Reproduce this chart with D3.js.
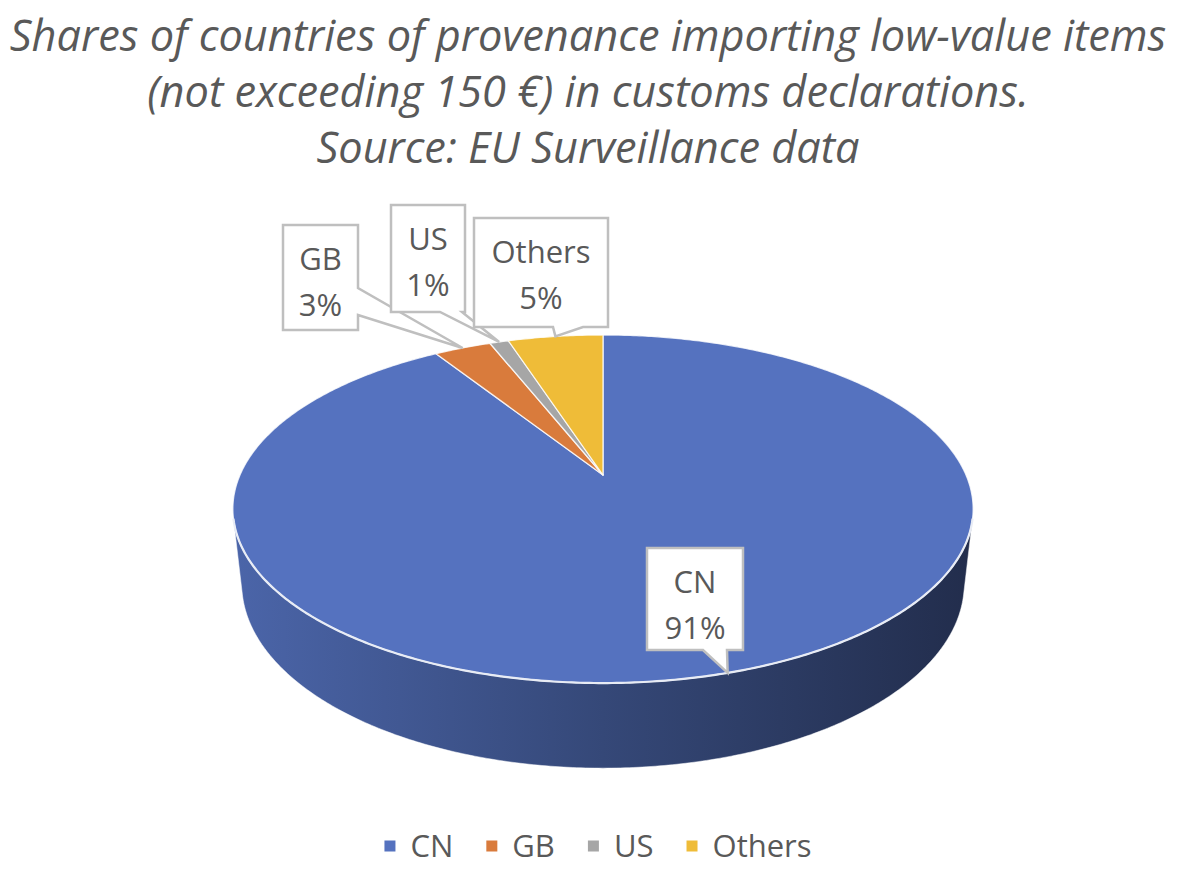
<!DOCTYPE html>
<html>
<head>
<meta charset="utf-8">
<script src="https://cdn.jsdelivr.net/npm/d3@7"></script>
<style>
  html, body { margin: 0; padding: 0; background: #fff; }
  svg { display: block; }
</style>
</head>
<body>
<div id="chart"></div>
<script>
// data
const categories = ["CN", "GB", "US", "Others"];
const shares = [91, 3, 1, 5];
const sliceColors = ["#5572bf", "#d97b3c", "#a6a6a6", "#efbc38"];
const titleLines = [
  "Shares of countries of provenance importing low-value items",
  "(not exceeding 150 €) in customs declarations.",
  "Source: EU Surveillance data"
];

// layout of the callout boxes (not data)
const calloutLayout = [
  {x: 647, y: 548, w: 96, h: 102, side: "bottom", b0: 703, b1: 727},
  {x: 283, y: 225, w: 75, h: 105, side: "right", b0: 288, b1: 315},
  {x: 391, y: 205, w: 74, h: 107, side: "bottom", b0: 440, b1: 462},
  {x: 474, y: 218, w: 134, h: 109, side: "bottom", b0: 553, b1: 583}
];

const width = 1200, height = 873;
const textColor = "#595959";

// 3d pie geometry
const cx = 603, cy = 475;
const R = 363;
const tilt = 27.46 * Math.PI / 180;
const camDist = 1648;
const depth = 85;
const sT = Math.sin(tilt), cT = Math.cos(tilt);

// angle clockwise from 12 o'clock, radius r, height y -> screen point
function proj(phi, r, y) {
  const X = r * Math.sin(phi);
  const Z = -r * Math.cos(phi);
  const up = y * cT - Z * sT;
  const d = y * sT + Z * cT;
  const k = camDist / (camDist - d);
  return [cx + X * k, cy - up * k];
}

function rimPoints(a0, a1, y) {
  const n = Math.max(2, Math.ceil((a1 - a0) / 0.01));
  return d3.range(n + 1).map(i => proj(a0 + (a1 - a0) * i / n, R, y));
}

const svg = d3.select("#chart").append("svg")
  .attr("width", width)
  .attr("height", height);

const data = categories.map((c, i) => ({name: c, value: shares[i], color: sliceColors[i]}));
const pie = d3.pie().sort(null).value(d => d.value).startAngle(0).endAngle(2 * Math.PI);
const arcs = pie(data);

const defs = svg.append("defs");
arcs.forEach((a, i) => {
  const base = d3.color(a.data.color);
  const g = defs.append("linearGradient")
    .attr("id", "side" + i)
    .attr("gradientUnits", "userSpaceOnUse")
    .attr("x1", cx - 1.02 * R).attr("x2", cx + 1.02 * R)
    .attr("y1", 0).attr("y2", 0);
  [[0, 0.35], [0.5, 1.3], [1, 2.6]].forEach(([o, k]) => {
    g.append("stop").attr("offset", o).attr("stop-color", base.darker(k).formatHex());
  });
});

const line = d3.line();

// outer wall, only the part that faces the viewer
const phiMin = Math.acos(-R / (camDist * cT));
const phiMax = 2 * Math.PI - phiMin;

const sides = svg.append("g");
arcs.forEach((a, i) => {
  const a0 = Math.max(a.startAngle, phiMin);
  const a1 = Math.min(a.endAngle, phiMax);
  if (a1 <= a0) return;
  const pts = rimPoints(a0, a1, 0).concat(rimPoints(a0, a1, -depth).reverse());
  sides.append("path")
    .attr("d", line(pts) + "Z")
    .attr("fill", `url(#side${i})`)
    .attr("stroke", "#ffffff")
    .attr("stroke-opacity", 0.5)
    .attr("stroke-width", 1);
});

// top faces
const tops = svg.append("g");
arcs.forEach(a => {
  const pts = [[cx, cy]].concat(rimPoints(a.startAngle, a.endAngle, 0));
  tops.append("path")
    .attr("d", line(pts) + "Z")
    .attr("fill", a.data.color)
    .attr("stroke", "#ffffff")
    .attr("stroke-opacity", 0.8)
    .attr("stroke-width", 1.3)
    .attr("stroke-linejoin", "round");
});

// light rim where the top meets the wall
svg.append("path")
  .attr("d", line(rimPoints(phiMin, phiMax, 0)))
  .attr("fill", "none")
  .attr("stroke", "#e8ecf5")
  .attr("stroke-width", 2.2);

// callouts
function calloutPath(b, tip) {
  if (b.side === "right") {
    return `M${b.x},${b.y}H${b.x + b.w}V${b.b0}L${tip[0]},${tip[1]}L${b.x + b.w},${b.b1}V${b.y + b.h}H${b.x}Z`;
  }
  return `M${b.x},${b.y}H${b.x + b.w}V${b.y + b.h}H${b.b1}L${tip[0]},${tip[1]}L${b.b0},${b.y + b.h}H${b.x}Z`;
}

const labels = svg.append("g");
arcs.forEach((a, i) => {
  const b = calloutLayout[i];
  const mid = (a.startAngle + a.endAngle) / 2;
  const tip = proj(mid, R, 0);
  const g = labels.append("g");
  g.append("path")
    .attr("d", calloutPath(b, tip))
    .attr("fill", "#ffffff")
    .attr("stroke", "#bfbfbf")
    .attr("stroke-width", 2.5)
    .attr("stroke-linejoin", "miter");
  const t = g.append("text")
    .attr("text-anchor", "middle")
    .attr("font-family", "'Open Sans', sans-serif")
    .attr("font-size", 31)
    .attr("fill", textColor);
  t.append("tspan").attr("x", b.x + b.w / 2).attr("y", b.y + 45).text(a.data.name);
  t.append("tspan").attr("x", b.x + b.w / 2).attr("y", b.y + 91).text(a.data.value + "%");
});

// title
const title = svg.append("g")
  .attr("font-family", "'Open Sans', sans-serif")
  .attr("font-style", "italic")
  .attr("fill", textColor)
  .attr("text-anchor", "middle");
const titleY = [51, 107, 163];
const titleNodes = titleLines.map((s, i) =>
  title.append("text").attr("x", 588).attr("y", titleY[i]).attr("font-size", 40).text(s));
const firstLen = titleNodes[0].node().getComputedTextLength();
const titleSize = 40 * 1157 / firstLen;
titleNodes.forEach(n => n.attr("font-size", titleSize));

// legend
const legend = svg.append("g")
  .attr("font-family", "'Open Sans', sans-serif")
  .attr("font-size", 31)
  .attr("fill", textColor);
const sq = 11, sqGap = 15, itemGap = 33;
let lx = 0;
const items = arcs.map(a => {
  const g = legend.append("g");
  g.append("rect").attr("x", 0).attr("y", -sq / 2).attr("width", sq).attr("height", sq).attr("fill", a.data.color);
  const t = g.append("text").attr("x", sq + sqGap).attr("y", 11).text(a.data.name);
  const w = sq + sqGap + t.node().getComputedTextLength();
  g.attr("transform", `translate(${lx},0)`);
  lx += w + itemGap;
  return g;
});
const legendW = lx - itemGap;
legend.attr("transform", `translate(${598 - legendW / 2},846)`);
</script>
</body>
</html>
